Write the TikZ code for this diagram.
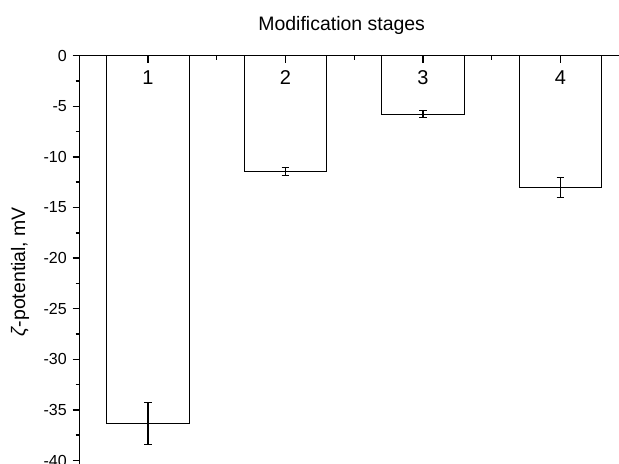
\documentclass[tikz,border=0pt]{standalone}
\usepackage{fontspec}
\setmainfont{Liberation Sans}
\begin{document}
\begin{tikzpicture}[x=0.75pt,y=-0.75pt,
  axisline/.style={line width=1.1pt},
  barbox/.style={line width=0.9pt,fill=white},
  errbar/.style={line width=0.9pt},
  ticklab/.style={anchor=east,inner sep=0pt,font=\fontsize{12}{14}\selectfont},
  barlab/.style={inner sep=0pt,font=\fontsize{15}{18}\selectfont},
  titlelab/.style={inner sep=0pt,font=\fontsize{14.6}{17}\selectfont}]
\useasboundingbox (0,0) rectangle (619,464);
% bars
\foreach \cx/\by/\elo/\ehi [count=\i] in {148/423.5/402.5/444.5, 285.5/171.5/167.5/175.5, 423/114.5/110.5/117.5, 560.5/187.5/177.5/197.5}{
  \draw[barbox] (\cx-41.3,55.7) rectangle (\cx+41.3,\by);
  \draw[errbar] (\cx,\elo) -- (\cx,\ehi);
  \draw[errbar] (\cx-3.8,\elo) -- (\cx+3.8,\elo);
  \draw[errbar] (\cx-3.8,\ehi) -- (\cx+3.8,\ehi);
  \node[barlab] (b\i) at (\cx,78) {\i};
}
% axes
\coordinate (o) at (79.5,55.7);
\coordinate (xr) at (625,55.7);
\coordinate (yb) at (79.5,470);
\draw[axisline] (xr) -- (o) -- (yb);
% top ticks
\foreach \cx in {148,285.5,423,560.5}{\draw[axisline] (\cx,55.7) -- (\cx,62.7);}
\foreach \cx in {216.75,354.25,491.75}{\draw[axisline] (\cx,55.7) -- (\cx,59.7);}
% left ticks
\foreach \v [count=\k] in {0,5,...,40}{
  \pgfmathsetmacro{\yy}{55.7+10.12*\v}
  \draw[axisline] (72.5,\yy) -- (79.5,\yy);
  \node[ticklab] (t\k) at (67,\yy) {\ifnum\v=0 0\else -\v\fi};
}
\foreach \v in {2.5,7.5,...,37.5}{
  \pgfmathsetmacro{\yy}{55.7+10.12*\v}
  \draw[axisline] (75.5,\yy) -- (79.5,\yy);
}
\node[titlelab] (title) at (341.7,25) {Modification stages};
\node[titlelab,rotate=90] (ylab) at (20,272) {\textit{ζ}-potential, mV};
\end{tikzpicture}
\end{document}
